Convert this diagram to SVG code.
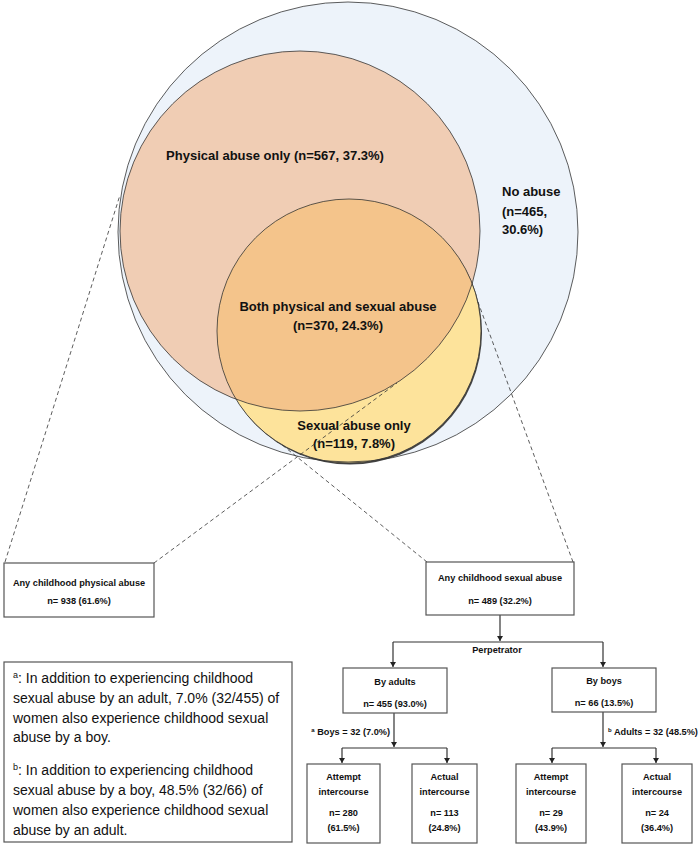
<svg xmlns="http://www.w3.org/2000/svg" width="700" height="846" viewBox="0 0 700 846">
<style>
text{font-family:"Liberation Sans",Arial,sans-serif;fill:#111}
.vl{font-size:13px;font-weight:bold}
.bt{font-size:9.2px;font-weight:bold;text-anchor:middle}
.bl{font-size:9.2px;font-weight:bold}
.fn{font-size:14px}
.box{fill:#fff;stroke:#555;stroke-width:1.2}
.circ{fill:none;stroke:#333;stroke-width:0.8}
.dash{fill:none;stroke:#333;stroke-width:0.8;stroke-dasharray:4 3}
.ln{fill:none;stroke:#333;stroke-width:1.2}
.ar{fill:none;stroke:#333;stroke-width:1.2;marker-end:url(#ah)}
</style>
<defs>
<marker id="ah" markerUnits="userSpaceOnUse" markerWidth="6" markerHeight="6" refX="5" refY="3" orient="auto">
<path d="M0,0 L5,3 L0,6 Z" fill="#222"/>
</marker>
<clipPath id="peachClip"><circle cx="300" cy="231" r="180"/></clipPath>
</defs>
<g id="venn">
<circle cx="348" cy="232" r="230" fill="#EDF3FA"/>
<circle cx="300" cy="231" r="180" fill="#F0CDB4"/>
<circle cx="350" cy="332.5" r="132" fill="#444"/>
<circle cx="349" cy="331" r="132" fill="#FDE39B"/>
<circle cx="349" cy="331" r="132" fill="#F4C48B" clip-path="url(#peachClip)"/>
<circle class="circ" cx="348" cy="232" r="230"/>
<circle class="circ" cx="300" cy="231" r="180"/>
<circle class="circ" cx="349" cy="331" r="132"/>
<text class="vl" x="275" y="160" text-anchor="middle">Physical abuse only (n=567, 37.3%)</text>
<text class="vl" x="502" y="196">No abuse</text>
<text class="vl" x="502" y="216">(n=465,</text>
<text class="vl" x="502" y="234">30.6%)</text>
<text class="vl" x="338" y="311" text-anchor="middle">Both physical and sexual abuse</text>
<text class="vl" x="338" y="330" text-anchor="middle">(n=370, 24.3%)</text>
<text class="vl" x="354" y="430" text-anchor="middle">Sexual abuse only</text>
<text class="vl" x="354" y="448" text-anchor="middle">(n=119, 7.8%)</text>
</g>
<g id="connectors">
<line class="dash" x1="5" y1="562" x2="120" y2="195"/>
<line class="dash" x1="154" y1="563" x2="397" y2="383"/>
<line class="dash" x1="427" y1="562" x2="281" y2="444"/>
<line class="dash" x1="573" y1="562" x2="478" y2="302"/>
<path class="ar" d="M500,615 V641"/>
<path class="ln" d="M393,642 H603"/>
<path class="ar" d="M393,642 V667"/>
<path class="ar" d="M603,642 V667"/>
<path class="ar" d="M394,713 V747"/>
<path class="ln" d="M342,748 H447"/>
<path class="ar" d="M342,748 V763"/>
<path class="ar" d="M447,748 V763"/>
<path class="ar" d="M603,712 V747"/>
<path class="ln" d="M552,748 H656"/>
<path class="ar" d="M552,748 V763"/>
<path class="ar" d="M656,748 V763"/>
<text class="bt" x="497" y="653">Perpetrator</text>
<text class="bl" x="390" y="735" style="text-anchor:end"><tspan font-size="6" dy="-3">a</tspan><tspan dy="3"> Boys = 32 (7.0%)</tspan></text>
<text class="bl" x="608" y="735" style="text-anchor:start"><tspan font-size="6" dy="-3">b</tspan><tspan dy="3"> Adults = 32 (48.5%)</tspan></text>
</g>
<g id="physical-box">
<rect class="box" x="4" y="563" width="150" height="54"/>
<text class="bt" x="79" y="586">Any childhood physical abuse</text>
<text class="bt" x="79" y="604">n= 938 (61.6%)</text>
</g>
<g id="sexual-box">
<rect class="box" x="426" y="562" width="148" height="53"/>
<text class="bt" x="500" y="581">Any childhood sexual abuse</text>
<text class="bt" x="500" y="604">n= 489 (32.2%)</text>
</g>
<g id="adults-box">
<rect class="box" x="343" y="668" width="104" height="45"/>
<text class="bt" x="395" y="685">By adults</text>
<text class="bt" x="395" y="707">n= 455 (93.0%)</text>
</g>
<g id="boys-box">
<rect class="box" x="552" y="668" width="104" height="44"/>
<text class="bt" x="604" y="684">By boys</text>
<text class="bt" x="604" y="706">n= 66 (13.5%)</text>
</g>
<g id="adults-attempt">
<rect class="box" x="307" y="764" width="73" height="79"/>
<text class="bt" x="343.5" y="780">Attempt</text>
<text class="bt" x="343.5" y="795">intercourse</text>
<text class="bt" x="343.5" y="816">n= 280</text>
<text class="bt" x="343.5" y="831">(61.5%)</text>
</g>
<g id="adults-actual">
<rect class="box" x="412" y="764" width="65" height="79"/>
<text class="bt" x="444.5" y="780">Actual</text>
<text class="bt" x="444.5" y="795">intercourse</text>
<text class="bt" x="444.5" y="816">n= 113</text>
<text class="bt" x="444.5" y="831">(24.8%)</text>
</g>
<g id="boys-attempt">
<rect class="box" x="516" y="764" width="70" height="79"/>
<text class="bt" x="551" y="780">Attempt</text>
<text class="bt" x="551" y="795">intercourse</text>
<text class="bt" x="551" y="816">n= 29</text>
<text class="bt" x="551" y="831">(43.9%)</text>
</g>
<g id="boys-actual">
<rect class="box" x="622" y="764" width="70" height="79"/>
<text class="bt" x="657" y="780">Actual</text>
<text class="bt" x="657" y="795">intercourse</text>
<text class="bt" x="657" y="816">n= 24</text>
<text class="bt" x="657" y="831">(36.4%)</text>
</g>
<g id="footnote">
<rect class="box" x="4" y="662" width="288" height="180"/>
<text class="fn" x="13" y="683"><tspan font-size="9" dy="-5">a</tspan><tspan dy="5">: In addition to experiencing childhood</tspan></text>
<text class="fn" x="13" y="703">sexual abuse by an adult, 7.0% (32/455) of</text>
<text class="fn" x="13" y="723">women also experience childhood sexual</text>
<text class="fn" x="13" y="742">abuse by a boy.</text>
<text class="fn" x="13" y="775"><tspan font-size="9" dy="-5">b</tspan><tspan dy="5">: In addition to experiencing childhood</tspan></text>
<text class="fn" x="13" y="795">sexual abuse by a boy, 48.5% (32/66) of</text>
<text class="fn" x="13" y="815">women also experience childhood sexual</text>
<text class="fn" x="13" y="835">abuse by an adult.</text>
</g>
</svg>
